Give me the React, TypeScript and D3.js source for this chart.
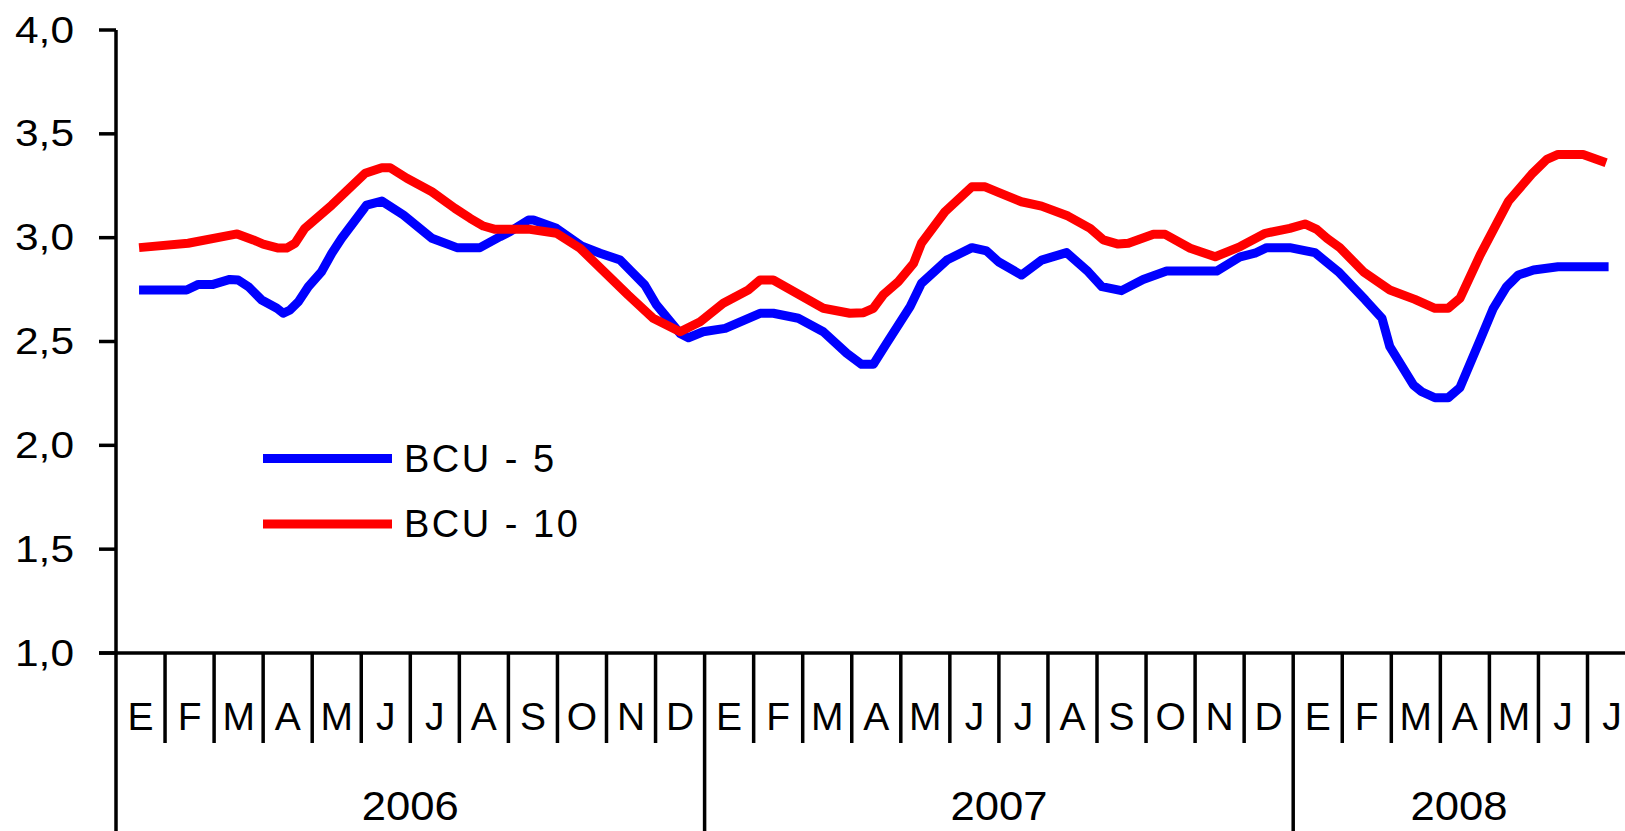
import React from "react";
import * as d3 from "d3";

// ---- data (time in months since start of Jan 2006) ----
const MONTH_LABELS = ["E", "F", "M", "A", "M", "J", "J", "A", "S", "O", "N", "D"];
const YEARS = ["2006", "2007", "2008"];
const YEAR_MONTHS = [12, 12, 7];
const Y_TICKS = [1.0, 1.5, 2.0, 2.5, 3.0, 3.5, 4.0];

const SERIES_NAMES = ["BCU - 5", "BCU - 10"];
const SERIES_COLORS = ["#0000FF", "#FF0000"];

const bcu5T = [
  0.47, 1.44, 1.68, 1.98, 2.32, 2.49, 2.7, 2.97, 3.28, 3.41, 3.55, 3.72, 3.92, 4.19, 4.4, 4.6,
  5.11, 5.42, 5.86, 6.44, 6.95, 7.42, 7.83, 8.03, 8.41, 8.51, 8.98, 9.49, 9.87, 10.28, 10.48,
  10.78, 11.02, 11.5, 11.67, 11.97, 12.42, 13.13, 13.4, 13.91, 14.42, 14.9, 15.2, 15.44, 15.71,
  16.19, 16.42, 16.94, 17.45, 17.75, 17.99, 18.46, 18.87, 19.38, 19.82, 20.1, 20.5, 20.94,
  21.42, 22.44, 22.92, 23.22, 23.46, 23.93, 24.44, 24.92, 25.47, 25.81, 25.97, 26.45, 26.62,
  26.89, 27.16, 27.4, 27.81, 28.08, 28.35, 28.59, 28.9, 29.4, 30.43,
];
const bcu5 = [
  2.748, 2.748, 2.775, 2.775, 2.799, 2.796, 2.764, 2.7, 2.66, 2.636, 2.652, 2.692, 2.764, 2.836,
  2.925, 2.997, 3.157, 3.176, 3.109, 2.997, 2.952, 2.952, 3.005, 3.029, 3.085, 3.085, 3.045,
  2.96, 2.925, 2.892, 2.844, 2.772, 2.676, 2.539, 2.518, 2.547, 2.563, 2.636, 2.636, 2.612,
  2.547, 2.443, 2.39, 2.39, 2.491, 2.668, 2.78, 2.892, 2.952, 2.936, 2.884, 2.82, 2.892, 2.928,
  2.836, 2.764, 2.745, 2.799, 2.839, 2.839, 2.908, 2.925, 2.952, 2.952, 2.928, 2.836, 2.7,
  2.612, 2.475, 2.291, 2.258, 2.229, 2.229, 2.278, 2.507, 2.66, 2.764, 2.82, 2.844, 2.86, 2.86,
];

const bcu10T = [
  0.47, 1.47, 2.47, 2.8, 3.0, 3.31, 3.48, 3.65, 3.85, 4.4, 5.08, 5.42, 5.59, 5.93, 6.44, 6.91,
  7.22, 7.49, 7.73, 8.44, 8.98, 9.46, 10.44, 10.95, 11.5, 11.91, 12.38, 12.89, 13.13, 13.4,
  14.42, 14.96, 15.24, 15.44, 15.64, 15.95, 16.26, 16.42, 16.9, 17.45, 17.72, 17.99, 18.46,
  18.87, 19.41, 19.86, 20.13, 20.43, 20.64, 21.15, 21.39, 21.9, 22.41, 22.92, 23.43, 23.93,
  24.24, 24.48, 24.69, 24.95, 25.43, 25.97, 26.48, 26.89, 27.16, 27.4, 27.81, 28.15, 28.39,
  28.86, 29.17, 29.4, 29.91, 30.38,
];
const bcu10 = [
  2.952, 2.973, 3.018, 2.989, 2.969, 2.95, 2.95, 2.973, 3.045, 3.157, 3.31, 3.337, 3.337, 3.286,
  3.221, 3.141, 3.093, 3.056, 3.04, 3.04, 3.021, 2.949, 2.724, 2.612, 2.547, 2.595, 2.684,
  2.748, 2.796, 2.796, 2.66, 2.636, 2.639, 2.66, 2.724, 2.788, 2.876, 2.973, 3.125, 3.245,
  3.245, 3.218, 3.173, 3.152, 3.104, 3.045, 2.989, 2.969, 2.973, 3.016, 3.016, 2.949, 2.908,
  2.957, 3.021, 3.045, 3.066, 3.04, 2.997, 2.952, 2.836, 2.748, 2.703, 2.66, 2.66, 2.708,
  2.916, 3.069, 3.176, 3.305, 3.377, 3.401, 3.401, 3.361,
];

// ---- layout ----
const W = 1625;
const H = 831;
const X0 = 116;
const MONTH_W = 49.05;
const Y_TOP = 30;
const Y_BOT = 653;
const FONT = "'Liberation Sans', Arial, Helvetica, sans-serif";

export default function App() {
  const totalMonths = d3.sum(YEAR_MONTHS);
  const x = d3.scaleLinear().domain([0, totalMonths]).range([X0, X0 + totalMonths * MONTH_W]);
  const y = d3.scaleLinear().domain([1, 4]).range([Y_BOT, Y_TOP]);
  const fmt = (v: number) => d3.format(".1f")(v).replace(".", ",");

  const line = d3
    .line<[number, number]>()
    .x((d) => x(d[0]))
    .y((d) => y(d[1]));

  const series = [
    { name: SERIES_NAMES[0], color: SERIES_COLORS[0], pts: bcu5T.map((t, i) => [t, bcu5[i]] as [number, number]) },
    { name: SERIES_NAMES[1], color: SERIES_COLORS[1], pts: bcu10T.map((t, i) => [t, bcu10[i]] as [number, number]) },
  ];

  const months: { idx: number; label: string }[] = [];
  let k = 0;
  YEAR_MONTHS.forEach((n) => {
    for (let m = 0; m < n; m++) {
      months.push({ idx: k, label: MONTH_LABELS[m] });
      k++;
    }
  });
  const yearStarts: number[] = [];
  let acc = 0;
  YEAR_MONTHS.forEach((n) => {
    yearStarts.push(acc);
    acc += n;
  });

  const axisW = 3.5;

  return (
    <svg
      width={W}
      height={H}
      style={{ position: "absolute", left: 0, top: 0, background: "#fff" }}
      fontFamily={FONT}
    >
      <rect x={0} y={0} width={W} height={H} fill="#fff" />

      {series.map((s) => (
        <path
          key={s.name}
          d={line(s.pts) || ""}
          fill="none"
          stroke={s.color}
          strokeWidth={9}
          strokeLinejoin="round"
        />
      ))}

      {/* y axis */}
      <line x1={X0} x2={X0} y1={y(4)} y2={H} stroke="#000" strokeWidth={axisW} />
      {Y_TICKS.map((t) => (
        <g key={t}>
          <line x1={X0 - 17} x2={X0} y1={y(t)} y2={y(t)} stroke="#000" strokeWidth={axisW} />
          <text
            x={74}
            y={y(t)}
            textAnchor="end"
            dominantBaseline="central"
            fontSize={36}
            textLength={59}
            lengthAdjust="spacingAndGlyphs"
          >
            {fmt(t)}
          </text>
        </g>
      ))}

      {/* x axis */}
      <line x1={X0 - 17} x2={W} y1={Y_BOT} y2={Y_BOT} stroke="#000" strokeWidth={axisW} />
      {months.map((m) =>
        m.idx === 0 ? null : (
          <line
            key={"t" + m.idx}
            x1={x(m.idx)}
            x2={x(m.idx)}
            y1={Y_BOT}
            y2={yearStarts.includes(m.idx) ? H : 743}
            stroke="#000"
            strokeWidth={axisW}
          />
        )
      )}
      {months.map((m) => (
        <text
          key={"m" + m.idx}
          x={x(m.idx + 0.5)}
          y={716}
          textAnchor="middle"
          dominantBaseline="central"
          fontSize={39}
        >
          {m.label}
        </text>
      ))}
      {YEARS.map((yr, i) => {
        const a = x(yearStarts[i]);
        const b = Math.min(x(yearStarts[i] + YEAR_MONTHS[i]), W);
        return (
          <text
            key={yr}
            x={(a + b) / 2}
            y={806}
            textAnchor="middle"
            dominantBaseline="central"
            fontSize={41}
            textLength={97}
            lengthAdjust="spacingAndGlyphs"
          >
            {yr}
          </text>
        );
      })}

      {/* legend */}
      {series.map((s, i) => (
        <g key={"lg" + i} transform={`translate(263, ${458.5 + i * 65.5})`}>
          <line x1={0} x2={129} y1={0} y2={0} stroke={s.color} strokeWidth={9} />
          <text x={141} y={0} dominantBaseline="central" fontSize={38} letterSpacing={2.5}>
            {s.name}
          </text>
        </g>
      ))}
    </svg>
  );
}
